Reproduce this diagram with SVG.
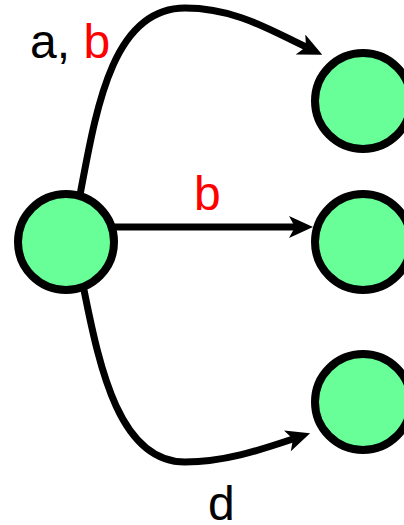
<svg xmlns="http://www.w3.org/2000/svg" width="404" height="525" viewBox="0 0 404 525">
  <style>
    .state { fill: #68FF98; stroke: #000; stroke-width: 8; }
    .edge { fill: none; stroke: #000; stroke-width: 7; marker-end: url(#arrow); }
    .lbl { font-family: "Liberation Sans", Arial, sans-serif; font-size: 48px; }
    .red { fill: #FF0000; }
    .blk { fill: #000; }
  </style>
  <defs>
    <marker id="arrow" markerUnits="userSpaceOnUse" viewBox="0 0 24 22" markerWidth="24" markerHeight="22" refX="6" refY="11" orient="auto">
      <path d="M0 0 L24 11 L0 22 L6 11 z" fill="#000"/>
    </marker>
  </defs>
  <rect width="404" height="525" fill="#fff"/>
  <g id="connectors">
    <path class="edge" d="M80 195 C96 110, 112 8, 185 8 C235 8, 270 30, 306 47"/>
    <path class="edge" d="M110 227 L295 227"/>
    <path class="edge" d="M84 290 C100 370, 120 462, 185 462 C225 462, 260 450, 293 439"/>
  </g>
  <g id="s0"><circle class="state" cx="66" cy="242" r="48"/></g>
  <g id="s1"><circle class="state" cx="363" cy="101" r="48"/></g>
  <g id="s2"><circle class="state" cx="363" cy="242" r="48"/></g>
  <g id="s3"><circle class="state" cx="363" cy="402" r="48"/></g>
  <g id="labels">
    <text class="lbl" x="30" y="58"><tspan class="blk">a, </tspan><tspan class="red">b</tspan></text>
    <text class="lbl red" x="194" y="210">b</text>
    <text class="lbl blk" x="208" y="520">d</text>
  </g>
</svg>
